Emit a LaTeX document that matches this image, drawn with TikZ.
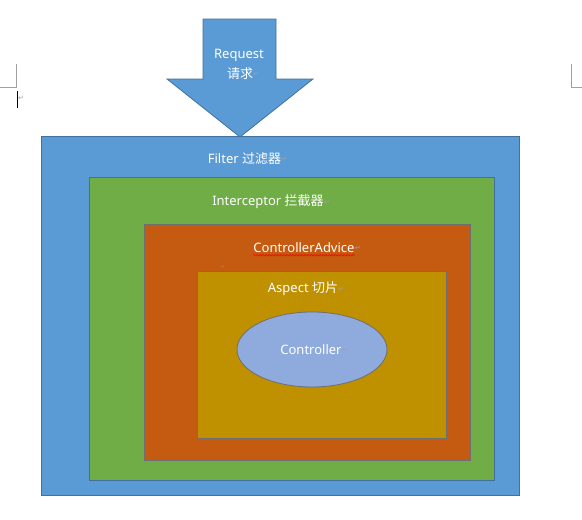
\documentclass[tikz,border=0pt]{standalone}
\usepackage{fontspec}
\setmainfont{Noto Sans}
\newfontfamily\cjk{Noto Sans CJK SC}
\newfontfamily\pmfont{DejaVu Sans}
\usetikzlibrary{decorations.pathmorphing,shapes.geometric}
\definecolor{cblue}{HTML}{5B9BD5}
\definecolor{cblueline}{HTML}{41719C}
\definecolor{cgreen}{HTML}{70AD47}
\definecolor{corange}{HTML}{C55A11}
\definecolor{cgold}{HTML}{BF9000}
\definecolor{cell}{HTML}{8FAADC}
\definecolor{cgrey}{HTML}{6F6F6F}
\definecolor{cmark}{HTML}{A0A0A0}
\tikzset{
  box/.style={draw=#1, line width=1pt, inner sep=0pt, rectangle},
  lbl/.style={text=white, inner sep=0pt, font=\fontsize{13}{15}\selectfont},
  para/.style={text=cmark, inner sep=0pt, font=\pmfont\fontsize{7}{8}\selectfont, anchor=west},
  wmark/.style={draw=cmark, line width=0.8pt},
}
\begin{document}
\begin{tikzpicture}[x=1pt, y=-1pt]
\useasboundingbox (0,0) rectangle (582,520);
% Word page marks
\coordinate (lm1) at (16,64);
\coordinate (lm2) at (16,87);
\coordinate (lm3) at (0,87);
\draw[wmark] (lm1) -- (lm2) -- (lm3);
\coordinate (rm1) at (571,64);
\coordinate (rm2) at (571,87);
\coordinate (rm3) at (582,87);
\draw[wmark] (rm1) -- (rm2) -- (rm3);
\coordinate (cur1) at (17,91);
\coordinate (cur2) at (17,108);
\draw[black, line width=1pt] (cur1) -- (cur2);
\node[para] (pm0) at (18,98) {↵};
% request arrow
\draw[fill=cblue, draw=cblueline, line width=0.8pt]
  (203,19) -- (276,19) -- (276,79) -- (313,79) -- (240,137) -- (167,79) -- (203,79) -- cycle;
\node[lbl] (req) at (239,55) {Request};
\node[lbl] (reqcn) at (240,74) {\cjk 请求};
\node[para] at (reqcn.east) {↵};
% nested boxes
\node[box=cblueline, fill=cblue, minimum width=478pt, minimum height=359pt] (filter) at (280,315.5) {};
\node[box=cblueline, fill=cgreen, minimum width=405pt, minimum height=303pt] (interceptor) at (291.5,328.5) {};
\node[box=cgrey, fill=corange, minimum width=326pt, minimum height=236pt] (advice) at (307,342) {};
\node[box=cgrey, fill=cgold, minimum width=249pt, minimum height=167pt] (aspect) at (321.5,354.5) {};
\node[draw=cgrey, line width=0.8pt, fill=cell, ellipse, minimum width=150pt, minimum height=75pt, inner sep=0pt] (controller) at (312,349.5) {};
% labels
\node[lbl] (lfilter) at (244.5,159) {Filter {\cjk 过滤器}};
\node[para] at (lfilter.east) {↵};
\node[lbl] (linter) at (268,202) {Interceptor {\cjk 拦截器}};
\node[para] at (linter.east) {↵};
\node[lbl] (ladvice) at (304,248) {ControllerAdvice};
\node[para] at (ladvice.east) {↵};
\draw[red, line width=0.6pt, decorate, decoration={snake, amplitude=0.8pt, segment length=3pt}]
  ([yshift=-2pt]ladvice.south west) -- ([yshift=-2pt]ladvice.south east);
\node[para, font=\pmfont\fontsize{4}{5}\selectfont] (pm1) at (221,267) {↵};
\node[lbl] (laspect) at (303,289) {Aspect {\cjk 切片}};
\node[para] at (laspect.east) {↵};
\node[lbl] (lctrl) at (311,350) {Controller};
\node[para] at (lctrl.east) {↵};
\end{tikzpicture}
\end{document}
